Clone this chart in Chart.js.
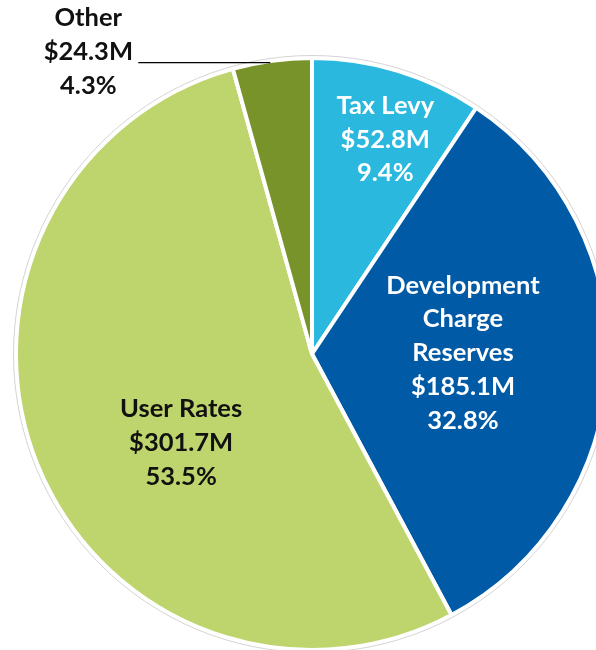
<!DOCTYPE html>
<html>
<head>
<meta charset="utf-8">
<script src="https://cdn.jsdelivr.net/npm/chart.js@4.4.1/dist/chart.umd.min.js"></script>
<style>
  html, body { margin: 0; padding: 0; background: #fff; overflow: hidden; }
  #wrap { width: 624px; height: 650px; overflow: hidden; }
</style>
</head>
<body>
<div id="wrap"><canvas id="budgetPie" width="624" height="654"></canvas></div>
<script>
// slices, clockwise from 12 o'clock
var categories = ['Tax Levy', 'Development Charge Reserves', 'User Rates', 'Other'];
var nameLines = [['Tax Levy'], ['Development', 'Charge', 'Reserves'], ['User Rates'], ['Other']];
var amounts = [52.8, 185.1, 301.7, 24.3]; // $M
var percents = ['9.4%', '32.8%', '53.5%', '4.3%'];
var sliceColours = ['#2bb8de', '#005aa5', '#bed46c', '#77932a'];
var textColours = ['#ffffff', '#ffffff', '#111111', '#111111'];

// where the label sits: fraction of the radius + turn (degrees) off the slice middle
var labelPlace = [
  { dist: 0.766, turn: 2 },
  { dist: 0.51, turn: -3.2 },
  { dist: 0.534, turn: -12.3 },
  { outside: true }
];

var FONT = 'bold 25.5px Lato';
var LINE_H = 33.7;

var pieOutline = {
  id: 'pieOutline',
  afterDatasetsDraw: function (chart) {
    var arc = chart.getDatasetMeta(0).data[0];
    var ctx = chart.ctx;
    ctx.save();
    ctx.strokeStyle = '#d4d4d4';
    ctx.lineWidth = 1;
    ctx.beginPath();
    ctx.arc(arc.x, arc.y, arc.outerRadius + 2.5, 0, Math.PI * 2);
    ctx.stroke();
    ctx.restore();
  }
};

var sliceLabels = {
  id: 'sliceLabels',
  afterDatasetsDraw: function (chart) {
    var ctx = chart.ctx;
    var meta = chart.getDatasetMeta(0);
    ctx.save();
    ctx.font = FONT;
    ctx.textAlign = 'center';
    ctx.textBaseline = 'middle';
    meta.data.forEach(function (arc, i) {
      var lines = nameLines[i].concat(['$' + amounts[i].toFixed(1) + 'M', percents[i]]);
      var p = labelPlace[i];
      var mid = (arc.startAngle + arc.endAngle) / 2;
      var cx, cy;
      if (p.outside) {
        // leader line from just inside the rim, straight out to the left
        var ex = arc.x + Math.cos(mid) * (arc.outerRadius - 2) - 2;
        var ey = arc.y + Math.sin(mid) * (arc.outerRadius - 2);
        var sx = ex - 132;
        ctx.strokeStyle = '#000';
        ctx.lineWidth = 1.3;
        ctx.beginPath();
        ctx.moveTo(sx, ey);
        ctx.lineTo(ex, ey);
        ctx.stroke();
        cx = sx - 50;
        cy = ey - 11;
      } else {
        var a = mid + p.turn * Math.PI / 180;
        cx = arc.x + Math.cos(a) * arc.outerRadius * p.dist;
        cy = arc.y + Math.sin(a) * arc.outerRadius * p.dist;
      }
      ctx.fillStyle = textColours[i];
      var top = cy - (lines.length - 1) * LINE_H / 2;
      lines.forEach(function (t, k) {
        ctx.fillText(t, cx, top + k * LINE_H);
      });
    });
    ctx.restore();
  }
};

new Chart(document.getElementById('budgetPie'), {
  type: 'pie',
  data: {
    labels: categories,
    datasets: [{
      data: amounts,
      backgroundColor: sliceColours,
      borderColor: '#ffffff',
      borderWidth: 4,
      hoverOffset: 0
    }]
  },
  options: {
    responsive: false,
    animation: false,
    layout: { padding: { left: 14, right: 14, top: 56, bottom: 2 } },
    plugins: {
      legend: { display: false },
      tooltip: { enabled: false }
    }
  },
  plugins: [pieOutline, sliceLabels]
});
</script>
</body>
</html>
